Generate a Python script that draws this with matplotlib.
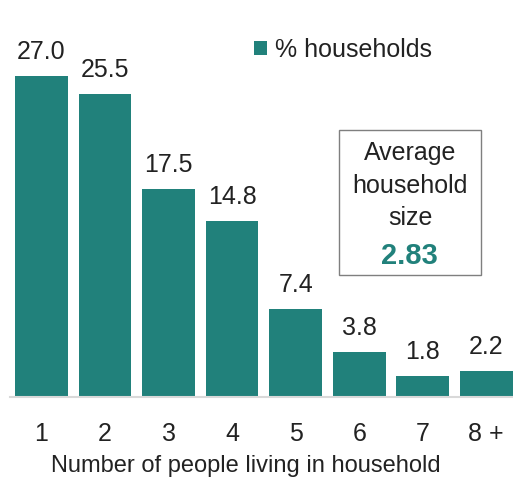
import matplotlib
matplotlib.use("Agg")
import matplotlib.pyplot as plt
from matplotlib.patches import Rectangle

categories = ["1", "2", "3", "4", "5", "6", "7", "8 +"]
values = [27.0, 25.5, 17.5, 14.8, 7.4, 3.8, 1.8, 2.2]
series_name = "% households"
avg_label = "Average\nhousehold\nsize"
avg_value = "2.83"
xlabel = "Number of people living in household"

TEAL = "#21817b"
plt.rcParams["font.family"] = ["Liberation Sans", "DejaVu Sans"]

W, H = 513, 480
fig = plt.figure(figsize=(W / 100, H / 100), dpi=100)

def fx(px):
    return px / W

def fy(py):
    return 1 - py / H

# axes: x from 10px to 513px, baseline at 397px, 11.9 px per unit
ymax = 31
ax = fig.add_axes([fx(10), fy(397), fx(503), ymax * 11.9 / H])
x = list(range(len(categories)))
bars = ax.bar(x, values, width=0.83, color=TEAL, label=series_name, zorder=2)
ax.set_xlim(-0.495, 7.42)
ax.set_ylim(0, ymax)

for xi, v in zip(x, values):
    ax.annotate(f"{v:.1f}", (xi, v), xytext=(0, 12), textcoords="offset points",
                ha="center", va="baseline", fontsize=18, color="#222222")

ax.set_xticks(x)
ax.set_xticklabels(categories, fontsize=18, color="#222222")
ax.tick_params(axis="x", length=0, pad=18)
ax.set_yticks([])
for s in ["top", "right", "left"]:
    ax.spines[s].set_visible(False)
ax.spines["bottom"].set_color("#d9d9d9")
ax.spines["bottom"].set_linewidth(1.5)

fig.text(fx(246), fy(472), xlabel, ha="center", va="baseline", fontsize=17, color="#222222")

leg = ax.legend(loc="upper left", bbox_to_anchor=(fx(254), fy(38)), bbox_transform=fig.transFigure,
                frameon=False, fontsize=18, handlelength=0.5, handleheight=0.5,
                handletextpad=0.35, borderpad=0, borderaxespad=0)
for t in leg.get_texts():
    t.set_color("#222222")

# average box
fig.patches.append(Rectangle((fx(339), fy(275)), fx(481) - fx(339), fy(130) - fy(275),
                             transform=fig.transFigure, fill=False, edgecolor="#7f7f7f", lw=1.0))
for line, yb in zip(avg_label.split("\n"), [160, 193, 225]):
    fig.text(fx(410), fy(yb), line, ha="center", va="baseline", fontsize=18, color="#222222")
fig.text(fx(409), fy(264), avg_value, ha="center", va="baseline", fontsize=21,
         fontweight="bold", color=TEAL)

fig.savefig("out.png", dpi=100)
